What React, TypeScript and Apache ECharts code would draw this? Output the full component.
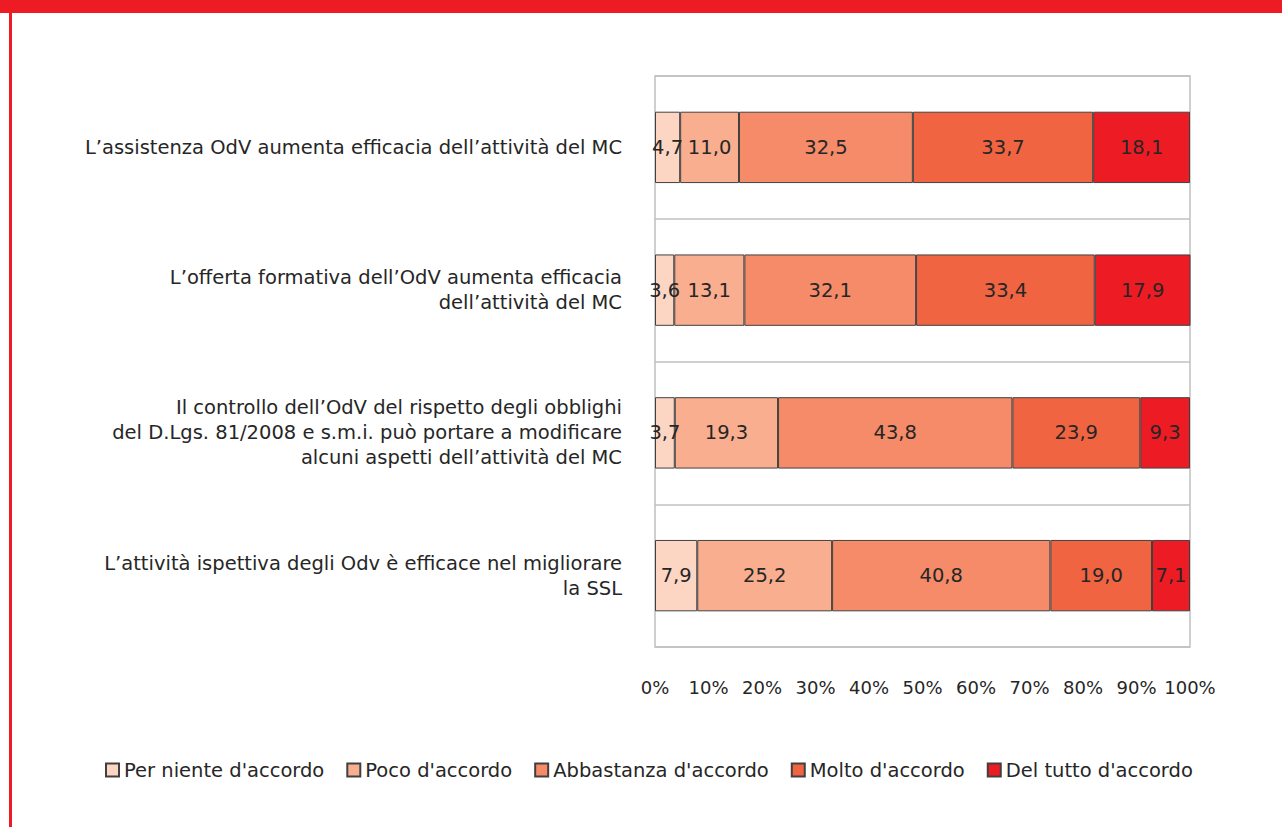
import React, { useEffect, useRef } from "react";
import * as echarts from "echarts";

const categories = [
  "L’assistenza OdV aumenta efficacia dell’attività del MC",
  "L’offerta formativa dell’OdV aumenta efficacia\ndell’attività del MC",
  "Il controllo dell’OdV del rispetto degli obblighi\ndel D.Lgs. 81/2008 e s.m.i. può portare a modificare\nalcuni aspetti dell’attività del MC",
  "L’attività ispettiva degli Odv è efficace nel migliorare\nla SSL",
];

const seriesNames = [
  "Per niente d'accordo",
  "Poco d'accordo",
  "Abbastanza d'accordo",
  "Molto d'accordo",
  "Del tutto d'accordo",
];

const perNiente = [4.7, 3.6, 3.7, 7.9];
const poco = [11.0, 13.1, 19.3, 25.2];
const abbastanza = [32.5, 32.1, 43.8, 40.8];
const molto = [33.7, 33.4, 23.9, 19.0];
const delTutto = [18.1, 17.9, 9.3, 7.1];

const seriesValues = [perNiente, poco, abbastanza, molto, delTutto];
const colors = ["#fdd5c3", "#f9ae8f", "#f58b68", "#f06441", "#ed1c24"];

const FONT = "'DejaVu Sans', sans-serif";
const FS = 19.5;

export default function App() {
  const ref = useRef<HTMLDivElement>(null);
  useEffect(() => {
    if (!ref.current) return;
    const chart = echarts.init(ref.current, undefined, { renderer: "svg" });
    chart.setOption({
      animation: false,
      backgroundColor: "#ffffff",
      textStyle: { fontFamily: FONT },
      graphic: [
        { type: "rect", shape: { x: 0, y: 0, width: 1282, height: 13 }, style: { fill: "#ed1c24" } },
        { type: "rect", shape: { x: 9, y: 13, width: 3, height: 814 }, style: { fill: "#ed1c24" } },
      ],
      grid: {
        left: 655,
        right: 92,
        top: 76,
        height: 571,
        show: true,
        borderColor: "#c0c0c0",
        borderWidth: 1.5,
      },
      legend: {
        left: 105,
        top: 760,
        padding: 0,
        itemWidth: 13,
        itemHeight: 13,
        itemGap: 22,
        icon: "rect",
        textStyle: { fontSize: FS, color: "#262626", fontFamily: FONT },
        data: seriesNames,
      },
      xAxis: {
        type: "value",
        min: 0,
        max: 100,
        interval: 10,
        axisLine: { show: false },
        axisTick: { show: false },
        splitLine: { show: false },
        axisLabel: {
          formatter: "{value}%",
          fontSize: 18,
          color: "#262626",
          margin: 31,
          fontFamily: FONT,
        },
      },
      yAxis: {
        type: "category",
        inverse: true,
        data: categories,
        axisLine: { show: false },
        axisTick: { show: false },
        splitLine: { show: true, lineStyle: { color: "#c0c0c0", width: 1.5 } },
        axisLabel: {
          fontSize: FS,
          color: "#262626",
          margin: 33,
          lineHeight: 25,
          align: "right",
          fontFamily: FONT,
        },
      },
      series: seriesNames.map((name, i) => ({
        name,
        type: "bar",
        stack: "total",
        barWidth: "50%",
        data: seriesValues[i],
        itemStyle: { color: colors[i], borderColor: "#404040", borderWidth: 1 },
        label: {
          show: true,
          position: "inside",
          fontSize: FS,
          color: "#262626",
          fontFamily: FONT,
          formatter: (p: any) => Number(p.value).toFixed(1).replace(".", ","),
        },
      })),
    });
    return () => chart.dispose();
  }, []);
  return (
    <div
      ref={ref}
      style={{ position: "fixed", left: 0, top: 0, width: 1282, height: 827 }}
    />
  );
}
